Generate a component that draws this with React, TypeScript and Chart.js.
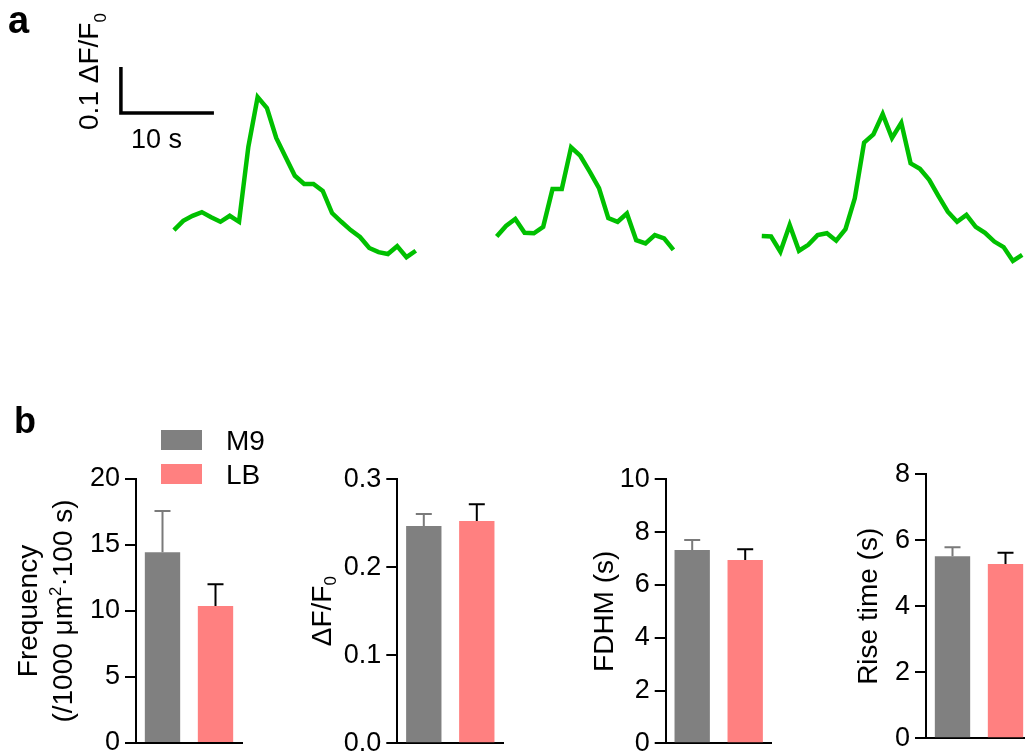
import { useEffect, useRef } from "react";
import { Chart, registerables } from "chart.js";

Chart.register(...registerables);

const FONT = "'Liberation Sans', Arial, Helvetica, sans-serif";
const GREEN = "#00C000";
const GRAY = "#808080";
const PINK = "#FF8080";
const TICK_SIZE = 27;
const TITLE_SIZE = 28;
const LEGEND_SIZE = 28;

// ---------- Panel a: example Ca2+ transients (ΔF/F0 sampled every second) ----------
const SAMPLE_INTERVAL_S = 1.0;
const TRACE1_START_S = 18.7;
const TRACE1 = [0.152, 0.172, 0.183, 0.191, 0.18, 0.17, 0.183, 0.17, 0.333, 0.441, 0.417, 0.352, 0.311, 0.27, 0.252, 0.252, 0.237, 0.189, 0.17, 0.152, 0.137, 0.113, 0.104, 0.1, 0.117, 0.093, 0.107];
const TRACE2_START_S = 53.4;
const TRACE2 = [0.138, 0.161, 0.176, 0.146, 0.145, 0.159, 0.241, 0.241, 0.332, 0.313, 0.279, 0.243, 0.178, 0.17, 0.188, 0.13, 0.123, 0.141, 0.134, 0.109];
const TRACE3_START_S = 81.9;
const TRACE3 = [0.139, 0.138, 0.105, 0.163, 0.107, 0.12, 0.141, 0.145, 0.129, 0.154, 0.221, 0.342, 0.36, 0.404, 0.352, 0.385, 0.297, 0.285, 0.261, 0.226, 0.192, 0.17, 0.185, 0.159, 0.146, 0.127, 0.115, 0.085, 0.098];
const TIME_RANGE_S = [0, 110.2];
const DFF_RANGE = [0, 0.652];
const SCALE_BAR_ORIGIN = { t: 13.0, v: 0.4065 };
const SCALE_BAR_TIME_S = 10;
const SCALE_BAR_DFF = 0.1;

// ---------- Panel b: summary bars (mean + SEM) ----------
const GROUPS = ["M9", "LB"];
const GROUP_COLORS = [GRAY, PINK];
const ERROR_COLORS = ["#7a7a7a", "#000000"];

const FREQ_MEAN = [14.45, 10.37];
const FREQ_SEM = [3.13, 1.65];
const FREQ_TICKS = [0, 5, 10, 15, 20];

const DFF_MEAN = [0.247, 0.2526];
const DFF_SEM = [0.0136, 0.019];
const DFF_TICKS = [0, 0.1, 0.2, 0.3];

const FDHM_MEAN = [7.32, 6.94];
const FDHM_SEM = [0.38, 0.41];
const FDHM_TICKS = [0, 2, 4, 6, 8, 10];

const RISE_MEAN = [5.52, 5.28];
const RISE_SEM = [0.27, 0.34];
const RISE_TICKS = [0, 2, 4, 6, 8];

type Seg = { text: string; scale?: number; shift?: number };

function drawRich(
  ctx: CanvasRenderingContext2D,
  segs: Seg[],
  x: number,
  y: number,
  size: number,
  rotated: boolean,
  align: "left" | "center",
  weight = "normal"
) {
  ctx.save();
  ctx.translate(x, y);
  if (rotated) ctx.rotate(-Math.PI / 2);
  ctx.textAlign = "left";
  ctx.textBaseline = "alphabetic";
  ctx.fillStyle = "#000";
  const widths = segs.map((s) => {
    ctx.font = `${weight} ${size * (s.scale ?? 1)}px ${FONT}`;
    return ctx.measureText(s.text).width;
  });
  const total = widths.reduce((a, b) => a + b, 0);
  let cx = align === "center" ? -total / 2 : 0;
  segs.forEach((s, i) => {
    ctx.font = `${weight} ${size * (s.scale ?? 1)}px ${FONT}`;
    ctx.fillText(s.text, cx, (s.shift ?? 0) * size);
    cx += widths[i];
  });
  ctx.restore();
}

function traceData(start: number, values: number[]) {
  return values.map((v, i) => ({ x: start + i * SAMPLE_INTERVAL_S, y: v }));
}

function traceConfig(): any {
  const decor = {
    id: "scalebar",
    afterDraw(chart: any) {
      const ctx = chart.ctx as CanvasRenderingContext2D;
      const xs = chart.scales.x;
      const ys = chart.scales.y;
      const x0 = xs.getPixelForValue(SCALE_BAR_ORIGIN.t);
      const x1 = xs.getPixelForValue(SCALE_BAR_ORIGIN.t + SCALE_BAR_TIME_S);
      const y0 = ys.getPixelForValue(SCALE_BAR_ORIGIN.v);
      const y1 = ys.getPixelForValue(SCALE_BAR_ORIGIN.v + SCALE_BAR_DFF);
      ctx.save();
      ctx.strokeStyle = "#000";
      ctx.lineWidth = 3.5;
      ctx.lineJoin = "miter";
      ctx.lineCap = "butt";
      ctx.beginPath();
      ctx.moveTo(x0, y1);
      ctx.lineTo(x0, y0);
      ctx.lineTo(x1, y0);
      ctx.stroke();
      ctx.restore();
      drawRich(ctx, [{ text: `${SCALE_BAR_TIME_S} s` }], x0 + 10, y0 + 35, 27, false, "left");
      drawRich(
        ctx,
        [{ text: `${SCALE_BAR_DFF} ΔF/F` }, { text: "0", scale: 0.6, shift: 0.3 }],
        x0 - 23,
        y0 + 17,
        TITLE_SIZE,
        true,
        "left"
      );
      drawRich(ctx, [{ text: "a" }], 8, 33, 38, false, "left", "bold");
    },
  };
  const mk = (start: number, vals: number[]) => ({
    data: traceData(start, vals),
    borderColor: GREEN,
    borderWidth: 4.5,
    pointRadius: 0,
    fill: false,
    tension: 0,
    borderJoinStyle: "miter",
  });
  return {
    type: "line",
    data: {
      datasets: [mk(TRACE1_START_S, TRACE1), mk(TRACE2_START_S, TRACE2), mk(TRACE3_START_S, TRACE3)],
    },
    options: {
      responsive: false,
      animation: false,
      events: [],
      layout: { padding: 0 },
      plugins: { legend: { display: false }, tooltip: { enabled: false } },
      scales: {
        x: { type: "linear", display: false, min: TIME_RANGE_S[0], max: TIME_RANGE_S[1] },
        y: { type: "linear", display: false, min: DFF_RANGE[0], max: DFF_RANGE[1] },
      },
    },
    plugins: [decor],
  };
}

type BarSpec = {
  mean: number[];
  sem: number[];
  ticks: number[];
  decimals: number;
  yWidth: number;
  pad: { top: number; bottom: number; left: number; right: number };
  titleLines: { segs: Seg[]; offset: number }[];
  extra?: (chart: any) => void;
};

function barConfig(spec: BarSpec): any {
  const decor = {
    id: "decor",
    afterDatasetsDraw(chart: any) {
      const ctx = chart.ctx as CanvasRenderingContext2D;
      const ys = chart.scales.y;
      const meta = chart.getDatasetMeta(0);
      ctx.save();
      spec.mean.forEach((m, i) => {
        const el = meta.data[i];
        const xc = el.x;
        const yTop = ys.getPixelForValue(m + spec.sem[i]);
        const yBar = ys.getPixelForValue(m);
        ctx.strokeStyle = ERROR_COLORS[i];
        ctx.lineWidth = 2;
        ctx.beginPath();
        ctx.moveTo(xc, yBar);
        ctx.lineTo(xc, yTop);
        ctx.moveTo(xc - 8, yTop);
        ctx.lineTo(xc + 8, yTop);
        ctx.stroke();
      });
      ctx.restore();
    },
    afterDraw(chart: any) {
      const a = chart.chartArea;
      const cy = (a.top + a.bottom) / 2;
      spec.titleLines.forEach((l) =>
        drawRich(chart.ctx, l.segs, a.left - l.offset, cy, TITLE_SIZE, true, "center")
      );
      if (spec.extra) spec.extra(chart);
    },
  };
  const t = spec.ticks;
  return {
    type: "bar",
    data: {
      labels: GROUPS,
      datasets: [
        {
          data: spec.mean,
          backgroundColor: GROUP_COLORS,
          borderWidth: 0,
          barPercentage: 0.667,
          categoryPercentage: 1,
        },
      ],
    },
    options: {
      responsive: false,
      animation: false,
      events: [],
      layout: { padding: spec.pad },
      plugins: { legend: { display: false }, tooltip: { enabled: false } },
      scales: {
        x: {
          type: "category",
          offset: true,
          grid: { display: false },
          ticks: { display: false },
          border: { display: true, color: "#000", width: 2 },
          afterFit: (s: any) => {
            s.height = 0;
          },
        },
        y: {
          min: t[0],
          max: t[t.length - 1],
          ticks: {
            stepSize: t[1] - t[0],
            font: { size: TICK_SIZE, family: FONT },
            color: "#000",
            padding: 5,
            callback: (v: any) => Number(v).toFixed(spec.decimals),
          },
          grid: {
            display: true,
            drawOnChartArea: false,
            drawTicks: true,
            tickLength: 11,
            color: "#000",
            lineWidth: 2,
          },
          border: { display: true, color: "#000", width: 2 },
          afterFit: (s: any) => {
            s.width = spec.yWidth;
          },
        },
      },
    },
    plugins: [decor],
  };
}

function legendAndLabel(chart: any) {
  const ctx = chart.ctx as CanvasRenderingContext2D;
  // panel label
  drawRich(ctx, [{ text: "b" }], 14, 33, 36, false, "left", "bold");
  // legend
  const swatchTops = [30, 64];
  GROUPS.forEach((g, i) => {
    ctx.save();
    ctx.fillStyle = GROUP_COLORS[i];
    ctx.fillRect(161, swatchTops[i], 41, 20);
    ctx.restore();
    drawRich(ctx, [{ text: g }], 226, swatchTops[i] + 10 + (0.716 * LEGEND_SIZE) / 2, LEGEND_SIZE, false, "left");
  });
}

type CanvasProps = { left: number; top: number; width: number; height: number; make: () => any };

function ChartCanvas({ left, top, width, height, make }: CanvasProps) {
  const ref = useRef<HTMLCanvasElement>(null);
  useEffect(() => {
    const chart = new Chart(ref.current as HTMLCanvasElement, make());
    return () => chart.destroy();
  }, []);
  return (
    <canvas
      ref={ref}
      width={width}
      height={height}
      style={{ position: "absolute", left, top, width, height }}
    />
  );
}

export default function App() {
  return (
    <div
      style={{
        position: "fixed",
        left: 0,
        top: 0,
        width: 1025,
        height: 755,
        overflow: "hidden",
        background: "#fff",
      }}
    >
      <ChartCanvas left={0} top={0} width={1025} height={300} make={traceConfig} />
      <ChartCanvas
        left={0}
        top={400}
        width={290}
        height={380}
        make={() =>
          barConfig({
            mean: FREQ_MEAN,
            sem: FREQ_SEM,
            ticks: FREQ_TICKS,
            decimals: 0,
            yWidth: 136,
            pad: { top: 79, bottom: 37, left: 0, right: 48 },
            titleLines: [
              { segs: [{ text: "Frequency" }], offset: 99 },
              {
                segs: [
                  { text: "(/1000 μm" },
                  { text: "2", scale: 0.6, shift: -0.38 },
                  { text: "·100 s)" },
                ],
                offset: 64,
              },
            ],
            extra: legendAndLabel,
          })
        }
      />
      <ChartCanvas
        left={290}
        top={440}
        width={230}
        height={340}
        make={() =>
          barConfig({
            mean: DFF_MEAN,
            sem: DFF_SEM,
            ticks: DFF_TICKS,
            decimals: 1,
            yWidth: 107.3,
            pad: { top: 39.3, bottom: 36.7, left: 0, right: 16.7 },
            titleLines: [
              {
                segs: [{ text: "ΔF/F" }, { text: "0", scale: 0.6, shift: 0.15 }],
                offset: 66,
              },
            ],
          })
        }
      />
      <ChartCanvas
        left={540}
        top={440}
        width={250}
        height={340}
        make={() =>
          barConfig({
            mean: FDHM_MEAN,
            sem: FDHM_SEM,
            ticks: FDHM_TICKS,
            decimals: 0,
            yWidth: 125.7,
            pad: { top: 39.3, bottom: 36.7, left: 0, right: 18.3 },
            titleLines: [{ segs: [{ text: "FDHM (s)" }], offset: 53 }],
          })
        }
      />
      <ChartCanvas
        left={800}
        top={440}
        width={240}
        height={340}
        make={() =>
          barConfig({
            mean: RISE_MEAN,
            sem: RISE_SEM,
            ticks: RISE_TICKS,
            decimals: 0,
            yWidth: 126,
            pad: { top: 34.3, bottom: 41.7, left: 0, right: 8 },
            titleLines: [{ segs: [{ text: "Rise time (s)" }], offset: 49 }],
          })
        }
      />
    </div>
  );
}
